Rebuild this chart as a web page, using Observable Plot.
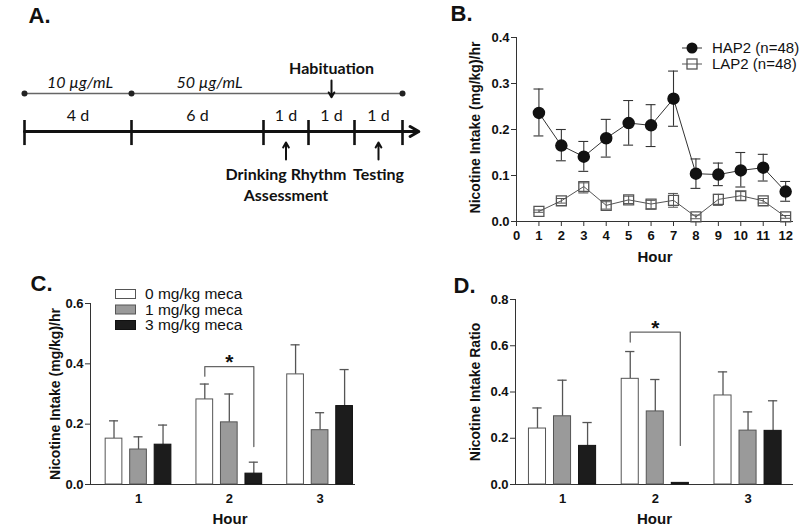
<!DOCTYPE html>
<html><head><meta charset="utf-8">
<script src="https://cdn.jsdelivr.net/npm/d3@7"></script>
<script src="https://cdn.jsdelivr.net/npm/@observablehq/plot@0.6"></script>
<style>
html,body{margin:0;padding:0;background:#fff;}
#fig{position:relative;width:800px;height:527px;overflow:hidden;background:#fff;}
#fig svg{position:absolute;max-width:none;}
</style></head><body><div id="fig"></div>
<script>
// ---------- Panel A: protocol timeline ----------
const timelineDays = [0, 4, 10, 11, 12, 13];          // cumulative day boundaries
const segmentLabels = ["4 d", "6 d", "1 d", "1 d", "1 d"];
const doseBounds = [0, 4, 13];
const doseLabels = ["10 µg/mL", "50 µg/mL"];
const eventDays = [11.5, 10.5, 12.5];
const eventLabels = ["Habituation", "Drinking Rhythm\nAssessment", "Testing"];
const eventDirs = ["down", "up", "up"];

// ---------- Panel B: hourly intake ----------
const hoursB = [1, 2, 3, 4, 5, 6, 7, 8, 9, 10, 11, 12];
const xTicksB = [0, 1, 2, 3, 4, 5, 6, 7, 8, 9, 10, 11, 12];
const yTicksB = [0, 0.1, 0.2, 0.3, 0.4];
const hap2Mean = [0.236, 0.165, 0.141, 0.181, 0.214, 0.209, 0.267, 0.104, 0.102, 0.111, 0.117, 0.065];
const hap2Lo   = [0.186, 0.132, 0.109, 0.140, 0.166, 0.163, 0.207, 0.072, 0.078, 0.075, 0.088, 0.044];
const hap2Hi   = [0.288, 0.200, 0.174, 0.222, 0.263, 0.254, 0.327, 0.136, 0.127, 0.150, 0.146, 0.087];
const lap2Mean = [0.022, 0.045, 0.076, 0.035, 0.047, 0.038, 0.046, 0.010, 0.048, 0.056, 0.045, 0.010];
const lap2Lo   = [0.020, 0.040, 0.062, 0.027, 0.039, 0.027, 0.031, 0.006, 0.035, 0.046, 0.040, 0.007];
const lap2Hi   = [0.025, 0.050, 0.084, 0.043, 0.055, 0.046, 0.061, 0.014, 0.059, 0.065, 0.050, 0.013];
const seriesB = ["HAP2 (n=48)", "LAP2 (n=48)"];

// ---------- Panels C & D: mecamylamine ----------
const hoursCD = [1, 2, 3];
const doses = ["0 mg/kg meca", "1 mg/kg meca", "3 mg/kg meca"];
const intakeMean = [[0.152, 0.282, 0.365], [0.116, 0.206, 0.180], [0.132, 0.036, 0.260]];
const intakeSem  = [[0.211, 0.333, 0.463], [0.158, 0.300, 0.238], [0.197, 0.074, 0.381]]; // upper bar ends
const ratioMean  = [[0.242, 0.457, 0.385], [0.295, 0.316, 0.233], [0.167, 0.007, 0.232]];
const ratioSem   = [[0.331, 0.575, 0.487], [0.451, 0.454, 0.314], [0.268, null, 0.362]];
const yTicksC = [0, 0.2, 0.4, 0.6];
const yTicksD = [0, 0.2, 0.4, 0.6, 0.8];
const sigC = {hour: 2, a: 0, b: 2, top: 0.391, aEnd: 0.359, bEnd: 0.126};
const sigD = {hour: 2, a: 0, b: 2, top: 0.659, aEnd: 0.616, bEnd: 0.169};

// ---------- styles ----------
const FONT = "'Liberation Sans', Arial, Helvetica, sans-serif";
const FONT_A = "Lato, 'Open Sans', sans-serif";
const doseFill = ["#ffffff", "#9a9a9a", "#1c1c1c"];
const doseStroke = ["#555555", "#555555", "#111111"];
const baseStyle = {fontFamily: FONT, fontSize: "13px", fontWeight: "bold", color: "#111", background: "transparent", overflow: "visible"};
const fig = document.getElementById("fig");
function place(svg, left, top) { svg.style.left = left + "px"; svg.style.top = top + "px"; fig.appendChild(svg); }

// ================= Panel A =================
const segs = segmentLabels.map((t, i) => ({t, mid: (timelineDays[i] + timelineDays[i + 1]) / 2}));
const doseSegs = doseLabels.map((t, i) => ({t, mid: (doseBounds[i] + doseBounds[i + 1]) / 2}));
const events = eventLabels.map((t, i) => ({t, day: eventDays[i], dir: eventDirs[i]}));
const svgA = Plot.plot({
  width: 420, height: 215, margin: 0,
  x: {type: "linear", domain: timelineDays, range: [24, 131, 263, 308, 354, 402], axis: null},
  y: {domain: [0, 1], range: [131, 93], axis: null},
  style: {...baseStyle, fontFamily: FONT_A, fontWeight: "normal"},
  marks: [
    Plot.text(["A."], {frameAnchor: "top-left", dx: 28, dy: 15, textAnchor: "start", lineAnchor: "middle", fontSize: 22, fontWeight: "bold", fontFamily: FONT}),
    Plot.ruleY([1], {x1: doseBounds[0], x2: doseBounds[2], stroke: "#666", strokeWidth: 1.3}),
    Plot.dot(doseBounds, {x: d => d, y: 1, r: 3, fill: "#222"}),
    Plot.text(doseSegs.slice(0, 1), {x: "mid", y: 1, dx: 2, dy: -11, text: "t", fontStyle: "italic", fontSize: 16}),
    Plot.text(doseSegs.slice(1), {x: "mid", y: 1, dx: -21, dy: -11, text: "t", fontStyle: "italic", fontSize: 16}),
    Plot.arrow([0], {x1: timelineDays[0], x2: 13.34, y: 0, stroke: "#111", strokeWidth: 3, headLength: 5}),
    Plot.ruleX(timelineDays, {x: d => d, y1: 0.29, y2: -0.37, stroke: "#111", strokeWidth: 2.6}),
    Plot.text(segs, {x: "mid", y: 0, dy: -16, text: "t", fontSize: 16, letterSpacing: "1.5px"}),
    Plot.arrow(events.filter(e => e.dir === "down"), {x: "day", y1: 1.34, y2: 0.9, stroke: "#111", strokeWidth: 2, headLength: 5}),
    Plot.arrow(events.filter(e => e.dir === "up"), {x: "day", y1: -0.74, y2: -0.29, stroke: "#111", strokeWidth: 2, headLength: 5}),
    Plot.text(events.filter(e => e.dir === "down"), {x: "day", y: 1, dy: -25, text: "t", fontWeight: "bold", fontSize: 16}),
    Plot.text(events.filter(e => e.dir === "up"), {x: "day", y: 0, dy: 34, text: "t", lineAnchor: "top", lineHeight: 1.3, fontWeight: "bold", fontSize: 16})
  ]
});
place(svgA, 0, 0);

// ================= Panel B =================
const hapRows = hoursB.map((h, i) => ({h, m: hap2Mean[i], lo: hap2Lo[i], hi: hap2Hi[i]}));
const lapRows = hoursB.map((h, i) => ({h, m: lap2Mean[i], lo: lap2Lo[i], hi: lap2Hi[i]}));
const capB = 0.22;
const svgB = Plot.plot({
  width: 380, height: 270, marginLeft: 96, marginRight: 7, marginTop: 37, marginBottom: 49,
  x: {domain: [0, 12.35]}, y: {domain: [0, 0.4]},
  style: baseStyle,
  marks: [
    Plot.ruleY([0], {stroke: "#333"}),
    Plot.ruleX([0], {y1: 0, y2: 0.4, stroke: "#333"}),
    Plot.axisY({ticks: yTicksB, tickFormat: d3.format(".1f"), tickSize: 5, tickPadding: 2, label: null, stroke: "#333"}),
    Plot.axisX({ticks: xTicksB, tickFormat: d3.format("d"), tickSize: 5, tickPadding: 4, label: null, stroke: "#333"}),
    Plot.text(["B."], {frameAnchor: "top-left", dx: -66, dy: -24, textAnchor: "start", lineAnchor: "middle", fontSize: 22}),
    Plot.text(["Nicotine Intake (mg/kg)/hr"], {frameAnchor: "left", rotate: -90, dx: -41, dy: -2, textAnchor: "middle", lineAnchor: "middle", fontSize: 14}),
    Plot.text(["Hour"], {frameAnchor: "bottom", dy: 36, textAnchor: "middle", lineAnchor: "middle", fontSize: 15}),
    // LAP2
    Plot.line(lapRows, {x: "h", y: "m", stroke: "#555", strokeWidth: 1}),
    Plot.ruleX(lapRows, {x: "h", y1: "lo", y2: "hi", stroke: "#555"}),
    Plot.ruleY(lapRows, {y: "lo", x1: d => d.h - capB, x2: d => d.h + capB, stroke: "#555"}),
    Plot.ruleY(lapRows, {y: "hi", x1: d => d.h - capB, x2: d => d.h + capB, stroke: "#555"}),
    Plot.dot(lapRows, {x: "h", y: "m", symbol: "square", r: 5.6, stroke: "#555", strokeWidth: 1.3, fill: "none"}),
    // HAP2
    Plot.line(hapRows, {x: "h", y: "m", stroke: "#333", strokeWidth: 1}),
    Plot.ruleX(hapRows, {x: "h", y1: "lo", y2: "hi", stroke: "#333", strokeWidth: 1.1}),
    Plot.ruleY(hapRows, {y: "lo", x1: d => d.h - capB, x2: d => d.h + capB, stroke: "#333", strokeWidth: 1.1}),
    Plot.ruleY(hapRows, {y: "hi", x1: d => d.h - capB, x2: d => d.h + capB, stroke: "#333", strokeWidth: 1.1}),
    Plot.dot(hapRows, {x: "h", y: "m", r: 5.5, fill: "#111", stroke: "#111"})
  ]
});
{
  const g = d3.select(svgB).append("g").attr("font-family", FONT).attr("font-size", 15).attr("font-weight", "normal").attr("text-anchor", "start");
  seriesB.forEach((name, i) => {
    const y = 48 + i * 16;
    const c = i === 0 ? "#333" : "#555";
    g.append("line").attr("x1", 262).attr("x2", 282).attr("y1", y).attr("y2", y).attr("stroke", c);
    if (i === 0) g.append("circle").attr("cx", 272).attr("cy", y).attr("r", 5.5).attr("fill", "#111");
    else g.append("rect").attr("x", 267).attr("y", y - 5).attr("width", 10).attr("height", 10).attr("fill", "none").attr("stroke", c).attr("stroke-width", 1.3);
    g.append("text").attr("x", 292).attr("y", y).attr("dy", "0.35em").attr("fill", "#111").attr("text-anchor", "start").text(name);
  });
}
place(svgB, 420, 0);

// ================= Panels C & D =================
const doseOffset = [-0.27, 0, 0.27];
const halfW = 0.092;
const capCD = 0.05;
function barPanel({mean, upper, yDomain, yTicks, xDomain, width, height, ml, mr, mt, mb, label, labelDx, labelDy, title, titleDx, hourDx, sig}) {
  const rows = [];
  doses.forEach((dose, k) => hoursCD.forEach((h, i) => rows.push({h, k, x: h + doseOffset[k], v: mean[k][i], e: upper[k][i]})));
  const withErr = rows.filter(d => d.e != null);
  const xa = sig.hour + doseOffset[sig.a], xb = sig.hour + doseOffset[sig.b];
  const bracket = [{x: xa, y: sig.aEnd}, {x: xa, y: sig.top}, {x: xb, y: sig.top}, {x: xb, y: sig.bEnd}];
  return Plot.plot({
    width, height, marginLeft: ml, marginRight: mr, marginTop: mt, marginBottom: mb,
    x: {domain: xDomain}, y: {domain: yDomain},
    style: baseStyle,
    marks: [
      Plot.ruleY([0], {stroke: "#333"}),
      Plot.ruleX([xDomain[0]], {y1: yDomain[0], y2: yDomain[1], stroke: "#333"}),
      Plot.axisY({ticks: yTicks, tickFormat: d3.format(".1f"), tickSize: 5, tickPadding: 2, label: null, stroke: "#333"}),
      Plot.axisX({ticks: hoursCD, tickFormat: d3.format("d"), tickSize: 0, tickPadding: 9, label: null}),
      Plot.text([label], {frameAnchor: "top-left", dx: labelDx, dy: labelDy, textAnchor: "start", lineAnchor: "middle", fontSize: 22}),
      Plot.text([title], {frameAnchor: "left", rotate: -90, dx: titleDx, textAnchor: "middle", lineAnchor: "middle", fontSize: 14}),
      Plot.text(["Hour"], {frameAnchor: "bottom", dx: hourDx, dy: 35, textAnchor: "middle", lineAnchor: "middle", fontSize: 15}),
      Plot.ruleX(withErr, {x: "x", y1: "v", y2: "e", stroke: "#555", strokeWidth: 1.3}),
      Plot.ruleY(withErr, {y: "e", x1: d => d.x - capCD, x2: d => d.x + capCD, stroke: "#555", strokeWidth: 1.3}),
      Plot.rect(rows, {x1: d => d.x - halfW, x2: d => d.x + halfW, y1: 0, y2: "v", fill: d => doseFill[d.k], stroke: d => doseStroke[d.k], strokeWidth: 1}),
      Plot.line(bracket, {x: "x", y: "y", stroke: "#666", strokeWidth: 1.3}),
      Plot.text([sig], {x: "hour", y: "top", dy: -4, text: () => "*", fontSize: 21, lineAnchor: "middle"})
    ]
  });
}
const svgC = barPanel({mean: intakeMean, upper: intakeSem, yDomain: [0, 0.6], yTicks: yTicksC, xDomain: [0.471, 3.39],
  width: 400, height: 257, ml: 90, mr: 45, mt: 33, mb: 43, label: "C.", labelDx: -60, labelDy: -20,
  title: "Nicotine Intake (mg/kg)/hr", titleDx: -35, hourDx: 7, sig: sigC});
{
  const g = d3.select(svgC).append("g").attr("font-family", FONT).attr("font-size", 15.5).attr("font-weight", "normal").attr("text-anchor", "start");
  doses.forEach((name, k) => {
    const y = 24 + k * 15.5;
    g.append("rect").attr("x", 115.5).attr("y", y - 4.5).attr("width", 20).attr("height", 9).attr("fill", doseFill[k]).attr("stroke", doseStroke[k]);
    g.append("text").attr("x", 145).attr("y", y).attr("dy", "0.35em").attr("fill", "#111").attr("text-anchor", "start").text(name);
  });
}
place(svgC, 0, 270);

const svgD = barPanel({mean: ratioMean, upper: ratioSem, yDomain: [0, 0.8], yTicks: yTicksD, xDomain: [0.493, 3.49],
  width: 400, height: 257, ml: 115, mr: 7, mt: 29, mb: 43, label: "D.", labelDx: -62, labelDy: -14,
  title: "Nicotine Intake Ratio", titleDx: -40, hourDx: 0, sig: sigD});
place(svgD, 400, 270);
</script></body></html>
